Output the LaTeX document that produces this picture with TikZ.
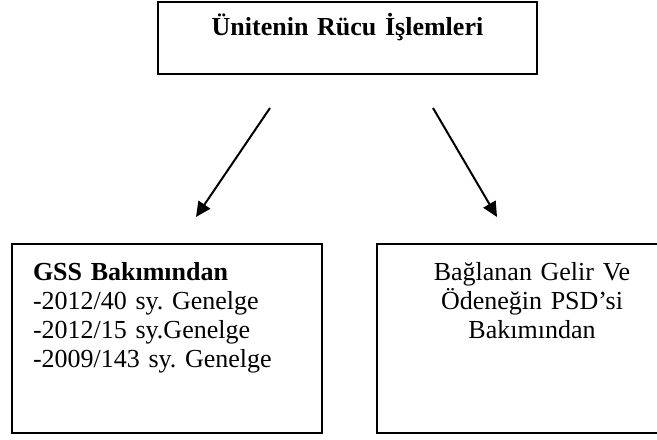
\documentclass[tikz,border=0pt]{standalone}
\usepackage{fontspec}
\setmainfont{Liberation Serif}
\usetikzlibrary{arrows.meta,positioning}
\frenchspacing
\newcommand{\kutuyazi}{\fontsize{13pt}{14.65pt}\selectfont}
\tikzset{
    every picture/.style={
        line width=1pt,>={Triangle[length=7.5pt,width=7pt]},
        x=0.5pt,y=-0.5pt,node distance=26.5pt,
        kutu/.style={draw,rectangle,inner xsep=10.5pt,inner ysep=0pt,font=\kutuyazi},
        altkutu/.style={kutu,text width=134pt,text height=18pt,text depth=76.5pt}
    }
}

\begin{document}
\begin{tikzpicture}
    \clip (0,0) rectangle (657,439);
    \node[kutu,text width=168.5pt,align=center,text height=16.5pt,text depth=19.5pt,anchor=base]
        (ust) at (347.5,35) {\textbf{Ünitenin Rücu İşlemleri}};
    \node[altkutu,align=left,anchor=base west] (gss) at (11,280)
        {\textbf{GSS Bakımından}\\-2012/40 sy. Genelge\\-2012/15 sy.Genelge\\-2009/143 sy. Genelge};
    \node[altkutu,align=center] (psd) [right=of gss]
        {Bağlanan Gelir Ve\\Ödeneğin PSD’si\\Bakımından};
    % ok uclari
    \coordinate (ustsol) at (270,108);
    \coordinate (ustsag) at (433,108);
    \coordinate (altsol) at (196,217);
    \coordinate (altsag) at (497,217);
    \draw[->] (ustsol) -- (altsol);
    \draw[->] (ustsag) -- (altsag);
\end{tikzpicture}
\end{document}
